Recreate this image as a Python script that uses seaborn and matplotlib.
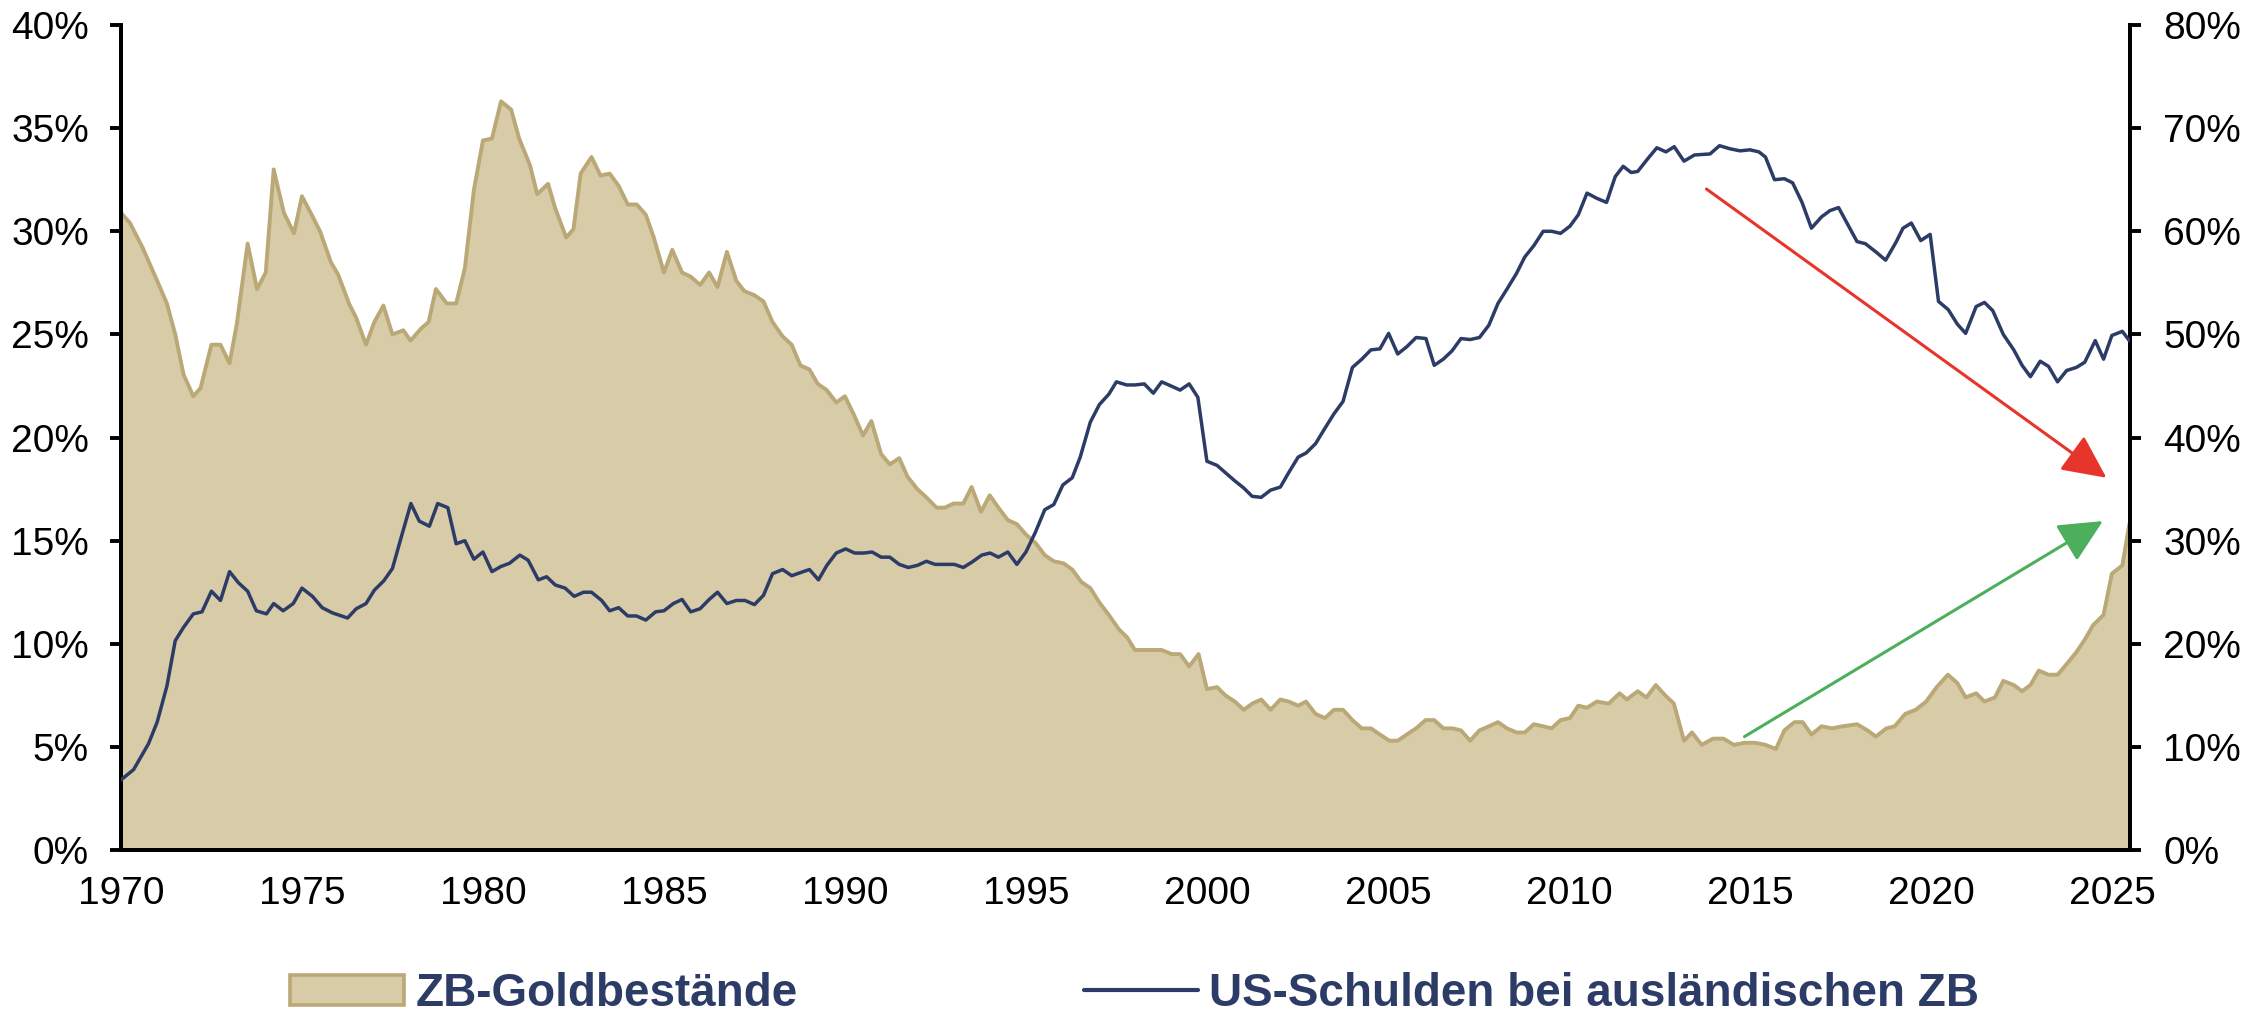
import numpy as np
import pandas as pd
import matplotlib
matplotlib.use("Agg")
import matplotlib.pyplot as plt
import seaborn as sns
from matplotlib.patches import Patch
from matplotlib.lines import Line2D

# Gold reserves of central banks (share, left axis, %)
gold_years = [1970.0, 1970.25, 1970.6, 1971.0, 1971.27, 1971.5, 1971.73, 1972.0, 1972.2, 1972.5,
              1972.75, 1973.0, 1973.2, 1973.5, 1973.76, 1974.0, 1974.22, 1974.5, 1974.78, 1975.0,
              1975.24, 1975.5, 1975.8, 1976.0, 1976.3, 1976.5, 1976.77, 1977.0, 1977.25, 1977.5,
              1977.8, 1978.0, 1978.3, 1978.5, 1978.7, 1979.0, 1979.26, 1979.5, 1979.75, 1980.0,
              1980.25, 1980.5, 1980.78, 1981.0, 1981.3, 1981.5, 1981.8, 1982.0, 1982.3, 1982.5,
              1982.7, 1983.0, 1983.25, 1983.5, 1983.75, 1984.0, 1984.25, 1984.5, 1984.72, 1985.0,
              1985.23, 1985.5, 1985.74, 1986.0, 1986.25, 1986.48, 1986.74, 1987.0, 1987.22, 1987.5,
              1987.75, 1988.0, 1988.28, 1988.53, 1988.77, 1989.02, 1989.25, 1989.5, 1989.76, 1990.0,
              1990.25, 1990.5, 1990.73, 1991.0, 1991.24, 1991.5, 1991.73, 1992.0, 1992.25, 1992.53,
              1992.76, 1993.0, 1993.27, 1993.5, 1993.76, 1994.0, 1994.24, 1994.5, 1994.75, 1995.0,
              1995.26, 1995.52, 1995.77, 1996.04, 1996.28, 1996.53, 1996.78, 1997.03, 1997.29, 1997.57,
              1997.8, 1998.01, 1998.29, 1998.52, 1998.75, 1999.03, 1999.26, 1999.51, 1999.77, 2000.0,
              2000.28, 2000.51, 2000.77, 2001.02, 2001.25, 2001.5, 2001.76, 2002.03, 2002.26, 2002.52,
              2002.74, 2003.0, 2003.26, 2003.51, 2003.76, 2004.02, 2004.28, 2004.53, 2004.78, 2005.04,
              2005.27, 2005.52, 2005.78, 2006.04, 2006.28, 2006.53, 2006.79, 2007.02, 2007.27, 2007.53,
              2007.79, 2008.04, 2008.29, 2008.55, 2008.78, 2009.03, 2009.29, 2009.52, 2009.77, 2010.03,
              2010.26, 2010.5, 2010.77, 2011.1, 2011.4, 2011.6, 2011.9, 2012.14, 2012.4, 2012.66,
              2012.9, 2013.18, 2013.4, 2013.67, 2013.98, 2014.27, 2014.56, 2014.85, 2015.14, 2015.43,
              2015.72, 2015.95, 2016.23, 2016.46, 2016.7, 2016.98, 2017.27, 2017.56, 2017.96, 2018.25,
              2018.48, 2018.77, 2019.0, 2019.29, 2019.58, 2019.87, 2020.16, 2020.47, 2020.73, 2020.96,
              2021.25, 2021.48, 2021.77, 2022.0, 2022.29, 2022.52, 2022.75, 2022.98, 2023.25, 2023.5,
              2023.79, 2024.02, 2024.25, 2024.48, 2024.77, 2025.0, 2025.29, 2025.48]
gold_share = [30.9, 30.4, 29.2, 27.6, 26.5, 25.0, 23.05, 22.0, 22.4, 24.5,
              24.5, 23.6, 25.5, 29.4, 27.2, 28.0, 33.0, 30.9, 29.9, 31.7,
              30.9, 30.0, 28.5, 27.9, 26.5, 25.8, 24.5, 25.6, 26.4, 25.0,
              25.2, 24.7, 25.3, 25.6, 27.2, 26.5, 26.5, 28.2, 32.0, 34.4,
              34.5, 36.3, 35.9, 34.5, 33.2, 31.8, 32.3, 31.1, 29.7, 30.1,
              32.8, 33.6, 32.7, 32.8, 32.2, 31.3, 31.3, 30.8, 29.7, 28.0,
              29.1, 28.0, 27.8, 27.4, 28.0, 27.3, 29.0, 27.6, 27.1, 26.9,
              26.6, 25.6, 24.9, 24.5, 23.5, 23.3, 22.6, 22.3, 21.7, 22.0,
              21.1, 20.1, 20.8, 19.2, 18.7, 19.0, 18.1, 17.5, 17.1, 16.6,
              16.6, 16.8, 16.8, 17.6, 16.4, 17.2, 16.6, 16.0, 15.8, 15.3,
              14.9, 14.3, 14.0, 13.9, 13.6, 13.0, 12.7, 12.0, 11.4, 10.7,
              10.3, 9.7, 9.7, 9.7, 9.7, 9.5, 9.5, 8.9, 9.5, 7.8,
              7.9, 7.5, 7.2, 6.8, 7.1, 7.3, 6.8, 7.3, 7.2, 7.0,
              7.2, 6.6, 6.4, 6.8, 6.8, 6.3, 5.9, 5.9, 5.6, 5.3,
              5.3, 5.6, 5.9, 6.3, 6.3, 5.9, 5.9, 5.8, 5.3, 5.8,
              6.0, 6.2, 5.9, 5.7, 5.7, 6.1, 6.0, 5.9, 6.3, 6.4,
              7.0, 6.9, 7.2, 7.1, 7.6, 7.3, 7.7, 7.4, 8.0, 7.5,
              7.1, 5.3, 5.7, 5.1, 5.4, 5.4, 5.1, 5.2, 5.2, 5.1,
              4.9, 5.8, 6.2, 6.2, 5.6, 6.0, 5.9, 6.0, 6.1, 5.8,
              5.5, 5.9, 6.0, 6.6, 6.8, 7.2, 7.9, 8.5, 8.1, 7.4,
              7.6, 7.2, 7.4, 8.2, 8.0, 7.7, 8.0, 8.7, 8.5, 8.5,
              9.1, 9.6, 10.2, 10.9, 11.4, 13.4, 13.8, 15.8]

# US debt held by foreign central banks (share, right axis, %)
debt_years = [1970.0, 1970.35, 1970.76, 1971.0, 1971.27, 1971.5, 1971.73, 1972.0, 1972.24, 1972.5,
              1972.75, 1973.0, 1973.25, 1973.5, 1973.74, 1974.02, 1974.22, 1974.48, 1974.76, 1975.0,
              1975.29, 1975.56, 1975.84, 1976.26, 1976.5, 1976.77, 1977.0, 1977.26, 1977.5, 1977.74,
              1978.01, 1978.24, 1978.52, 1978.75, 1979.03, 1979.26, 1979.5, 1979.75, 1980.0, 1980.25,
              1980.5, 1980.73, 1981.02, 1981.25, 1981.53, 1981.76, 1982.0, 1982.27, 1982.52, 1982.78,
              1983.0, 1983.28, 1983.5, 1983.75, 1984.0, 1984.24, 1984.5, 1984.77, 1985.0, 1985.26,
              1985.5, 1985.74, 1986.0, 1986.25, 1986.48, 1986.74, 1987.0, 1987.24, 1987.5, 1987.75,
              1988.0, 1988.28, 1988.53, 1988.77, 1989.02, 1989.27, 1989.5, 1989.76, 1990.02, 1990.27,
              1990.53, 1990.75, 1991.0, 1991.24, 1991.5, 1991.75, 1992.0, 1992.25, 1992.49, 1992.76,
              1993.02, 1993.27, 1993.5, 1993.78, 1994.01, 1994.24, 1994.5, 1994.75, 1995.0, 1995.26,
              1995.52, 1995.77, 1996.02, 1996.28, 1996.5, 1996.78, 1997.03, 1997.29, 1997.5, 1997.78,
              1998.01, 1998.27, 1998.52, 1998.75, 1999.01, 1999.26, 1999.51, 1999.75, 2000.0, 2000.28,
              2000.51, 2000.77, 2001.02, 2001.25, 2001.5, 2001.76, 2002.03, 2002.26, 2002.52, 2002.74,
              2003.0, 2003.26, 2003.51, 2003.76, 2004.02, 2004.28, 2004.53, 2004.78, 2005.02, 2005.27,
              2005.52, 2005.78, 2006.05, 2006.28, 2006.53, 2006.77, 2007.02, 2007.27, 2007.53, 2007.79,
              2008.04, 2008.29, 2008.55, 2008.78, 2009.03, 2009.29, 2009.52, 2009.77, 2010.03, 2010.26,
              2010.5, 2010.77, 2011.04, 2011.28, 2011.5, 2011.72, 2011.9, 2012.17, 2012.43, 2012.68,
              2012.91, 2013.18, 2013.47, 2013.9, 2014.16, 2014.45, 2014.73, 2015.0, 2015.25, 2015.43,
              2015.68, 2015.95, 2016.18, 2016.44, 2016.7, 2016.98, 2017.21, 2017.45, 2017.73, 2017.96,
              2018.19, 2018.48, 2018.75, 2019.03, 2019.23, 2019.46, 2019.72, 2019.98, 2020.21, 2020.48,
              2020.73, 2020.96, 2021.25, 2021.48, 2021.71, 2022.0, 2022.29, 2022.52, 2022.75, 2023.02,
              2023.25, 2023.5, 2023.75, 2024.02, 2024.25, 2024.54, 2024.77, 2025.0, 2025.29, 2025.48]
debt_share = [6.8, 7.8, 10.3, 12.4, 15.9, 20.3, 21.6, 22.9, 23.1, 25.1,
              24.2, 27.0, 25.9, 25.1, 23.2, 22.9, 23.9, 23.2, 23.9, 25.4,
              24.6, 23.5, 23.0, 22.5, 23.4, 23.9, 25.2, 26.1, 27.3, 30.3,
              33.6, 31.9, 31.4, 33.6, 33.2, 29.7, 30.0, 28.2, 28.9, 27.0,
              27.5, 27.8, 28.6, 28.1, 26.2, 26.5, 25.7, 25.4, 24.6, 25.0,
              25.0, 24.2, 23.2, 23.5, 22.7, 22.7, 22.3, 23.1, 23.2, 23.9,
              24.3, 23.1, 23.4, 24.3, 25.0, 23.9, 24.2, 24.2, 23.8, 24.7,
              26.8, 27.2, 26.6, 26.9, 27.2, 26.2, 27.6, 28.8, 29.2, 28.8,
              28.8, 28.9, 28.4, 28.4, 27.7, 27.4, 27.6, 28.0, 27.7, 27.7,
              27.7, 27.4, 27.9, 28.6, 28.8, 28.4, 28.9, 27.7, 28.9, 30.8,
              33.0, 33.5, 35.4, 36.1, 38.1, 41.5, 43.2, 44.2, 45.4, 45.1,
              45.1, 45.2, 44.3, 45.4, 45.0, 44.6, 45.2, 43.9, 37.7, 37.3,
              36.6, 35.8, 35.1, 34.3, 34.2, 34.9, 35.2, 36.6, 38.1, 38.5,
              39.4, 40.9, 42.3, 43.5, 46.8, 47.6, 48.5, 48.6, 50.1, 48.1,
              48.8, 49.7, 49.6, 47.0, 47.6, 48.4, 49.6, 49.5, 49.7, 50.9,
              53.0, 54.4, 55.9, 57.5, 58.6, 60.0, 60.0, 59.8, 60.5, 61.6,
              63.7, 63.2, 62.8, 65.3, 66.3, 65.7, 65.8, 67.0, 68.1, 67.7,
              68.2, 66.8, 67.4, 67.5, 68.3, 68.0, 67.8, 67.9, 67.7, 67.2,
              65.0, 65.1, 64.7, 62.8, 60.3, 61.4, 62.0, 62.3, 60.5, 59.0,
              58.8, 58.0, 57.2, 58.9, 60.3, 60.8, 59.1, 59.7, 53.2, 52.4,
              51.0, 50.1, 52.7, 53.1, 52.3, 50.0, 48.5, 47.0, 45.9, 47.4,
              46.9, 45.4, 46.5, 46.8, 47.3, 49.4, 47.6, 49.9, 50.3, 49.4]

left_ticks = [0, 5, 10, 15, 20, 25, 30, 35, 40]
right_ticks = [0, 10, 20, 30, 40, 50, 60, 70, 80]
x_ticks = [1970, 1975, 1980, 1985, 1990, 1995, 2000, 2005, 2010, 2015, 2020, 2025]

# trend arrows (right axis units)
red_arrow = ((2013.8, 64.1), (2024.85, 36.1))
green_arrow = ((2014.85, 11.0), (2024.75, 31.9))

gold = pd.DataFrame({"year": gold_years, "share": gold_share})
debt = pd.DataFrame({"year": debt_years, "share": debt_share})

sns.set_style("white")
plt.rcParams["font.family"] = ["Liberation Sans", "DejaVu Sans"]

FILL = "#d8cba8"
EDGE = "#bba877"
NAVY = "#2c3c66"

fig = plt.figure(figsize=(22.48, 10.26), dpi=100)
ax = fig.add_axes([0.0538, 0.1715, 0.8937, 0.8041])
ax2 = ax.twinx()

ax.fill_between(gold["year"], gold["share"], 0, color=FILL, lw=0, zorder=1)
sns.lineplot(data=gold, x="year", y="share", ax=ax, color=EDGE, lw=2.8, zorder=2)
sns.lineplot(data=debt, x="year", y="share", ax=ax2, color=NAVY, lw=2.5, zorder=3)

for (start, end), col in [(red_arrow, "#e8352b"), (green_arrow, "#4caf5c")]:
    ax2.annotate("", xy=end, xytext=start,
                 arrowprops=dict(arrowstyle="-|>,head_length=1.35,head_width=0.65",
                                 color=col, lw=2.2, mutation_scale=20,
                                 shrinkA=0, shrinkB=0))

ax.set_xlim(1970, 2025.5)
ax.set_ylim(0, 40)
ax2.set_ylim(0, 80)
ax.set_xticks(x_ticks)
ax.set_yticks(left_ticks)
ax.set_yticklabels([f"{v}%" for v in left_ticks])
ax2.set_yticks(right_ticks)
ax2.set_yticklabels([f"{v}%" for v in right_ticks])
ax.set_xlabel("")
ax.set_ylabel("")
ax2.set_ylabel("")

for a in (ax, ax2):
    for s in a.spines.values():
        s.set_linewidth(2.8)
        s.set_color("black")
    a.spines["top"].set_visible(False)
    a.tick_params(labelsize=28, colors="black", length=8, width=2.8, direction="out")
ax.tick_params(axis="x", pad=11)
ax.tick_params(axis="y", left=True, pad=15)
ax2.tick_params(axis="y", right=True, pad=16)
ax.set_zorder(ax2.get_zorder() - 1)
ax2.patch.set_visible(False)
ax.patch.set_facecolor("white")

handles = [Patch(facecolor=FILL, edgecolor=EDGE, linewidth=2.6),
           Line2D([0], [0], color=NAVY, lw=3.0)]
labels = ["ZB-Goldbestände", "US-Schulden bei ausländischen ZB"]
fig.legend(handles, labels, loc="center", bbox_to_anchor=(0.5047, 0.031), ncol=2,
           frameon=False, handlelength=2.49, handleheight=0.65, handletextpad=0.24,
           columnspacing=6.25,
           prop={"family": ["Liberation Sans Narrow", "Liberation Sans"],
                 "weight": "bold", "size": 33})
for t in fig.legends[0].get_texts():
    t.set_color(NAVY)

fig.savefig("out.png", dpi=100)
